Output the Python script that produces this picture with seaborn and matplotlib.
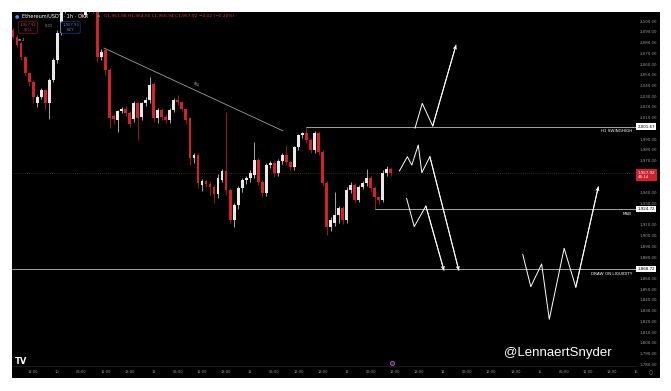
import matplotlib
matplotlib.use('Agg')
import numpy as np
import pandas as pd
import matplotlib.pyplot as plt
import seaborn as sns
from matplotlib.patches import Rectangle

# hourly candles, hour offset from 13th 00:00
hours = list(range(-83, 12))

opens = [2091.8, 2085.3, 2080.0, 2066.6, 2051.6, 2043.3, 2023.7, 2029.3, 2035.8, 2023.7,
         2045.1, 2063.8, 2089.0, 2112.0, 2120.0, 2116.0, 2122.0, 2117.0, 2106.0, 2112.0,
         2115.0, 2110.0, 2066.6, 2073.1, 2054.5, 2011.5, 2007.8, 2016.2, 2018.0, 2014.4,
         2008.7, 2023.7, 2010.6, 2023.7, 2026.5, 2041.4, 2009.7, 2017.1, 2010.6, 2007.8,
         2017.1, 2026.5, 2024.6, 2018.0, 2009.7, 1972.3, 1975.2, 1947.2, 1950.9, 1948.1,
         1945.3, 1938.8, 1951.8, 1960.5, 1942.5, 1914.5, 1928.5, 1944.4, 1951.8, 1953.7,
         1956.5, 1970.5, 1950.0, 1939.7, 1965.8, 1968.0, 1958.4, 1969.5, 1975.2, 1968.6,
         1964.0, 1982.6, 1993.8, 1995.7, 1989.2, 1979.8, 1995.7, 1978.0, 1949.0, 1908.0,
         1912.0, 1919.0, 1925.7, 1914.5, 1942.5, 1947.2, 1933.2, 1945.3, 1949.0, 1953.7,
         1944.4, 1935.6, 1933.2, 1958.4, 1962.1]
highs = [2094, 2087, 2081, 2068, 2053, 2045, 2031, 2038, 2037, 2047,
         2066, 2092, 2118, 2124, 2126, 2124, 2126, 2120, 2114, 2117,
         2118, 2112, 2074, 2074.5, 2056, 2013, 2017, 2020, 2021, 2016,
         2026, 2025, 2025, 2029, 2048.3, 2043, 2019, 2019, 2013, 2019,
         2028, 2031, 2026, 2019, 2011, 1977, 1977, 1953, 1952, 1951,
         1947, 1957, 1962, 2015.5, 1944, 1930, 1946, 1954, 1956, 1961,
         1987.3, 1972, 1952, 1968, 1970, 1970, 1971, 1977, 1984.3, 1970,
         1984, 1995, 1997, 2001.67, 1991, 1998, 1997, 1980, 1951, 1917,
         1941, 1928, 1928, 1945, 1950, 1949, 1947, 1951, 1962, 1956,
         1946, 1937, 1961, 1964.5, 1964]
lows = [2083, 2076, 2064, 2049, 2040, 2024, 2020, 2027, 2018, 2009,
        2043, 2061, 2087, 2108, 2112, 2112, 2114, 2104, 2104, 2109,
        2108, 2062, 2064, 2050, 2000.5, 2004, 1997, 2014, 2012, 2001,
        2006, 1989.2, 2008, 2021, 2024, 2006, 2005, 2008, 2005, 2005,
        2015, 2022, 2016, 2004, 1966, 1968, 1944, 1942, 1945, 1938,
        1930, 1935, 1950, 1938, 1912, 1908.3, 1925, 1941, 1948, 1950,
        1954, 1947, 1936, 1937, 1963, 1955, 1956, 1967, 1966, 1961,
        1961, 1980, 1991, 1986, 1977, 1977, 1975, 1946, 1900.2, 1904,
        1909, 1912, 1911, 1912, 1940, 1930, 1931, 1943, 1946, 1941,
        1924.72, 1929, 1931, 1956, 1956]
closes = [2085.3, 2077.8, 2066.6, 2051.6, 2043.3, 2029.3, 2029.3, 2035.8, 2023.7, 2045.1,
          2063.8, 2089.0, 2112.0, 2120.0, 2116.0, 2122.0, 2117.0, 2110.0, 2112.0, 2115.0,
          2110.0, 2066.6, 2071.2, 2054.5, 2009.7, 2008.7, 2016.2, 2018.0, 2014.4, 2004.1,
          2023.7, 2009.7, 2023.7, 2026.5, 2040.5, 2009.7, 2017.1, 2010.6, 2007.8, 2017.1,
          2026.5, 2024.6, 2018.0, 2007.8, 1972.3, 1975.2, 1949.0, 1950.9, 1948.1, 1945.3,
          1938.8, 1953.7, 1960.5, 1942.5, 1914.5, 1928.5, 1944.4, 1951.8, 1953.7, 1958.4,
          1970.5, 1950.0, 1939.7, 1965.8, 1968.0, 1958.4, 1969.5, 1975.2, 1968.6, 1964.0,
          1982.6, 1993.8, 1995.7, 1989.2, 1979.8, 1995.7, 1978.0, 1949.0, 1908.0, 1914.5,
          1919.0, 1925.7, 1914.5, 1942.5, 1947.2, 1933.2, 1945.3, 1949.0, 1953.7, 1944.4,
          1935.6, 1933.2, 1958.4, 1962.1, 1957.92]

# levels
swing_high = 2001.67
msb = 1924.72
dol = 1868.72
last_price = 1957.92

# drawn lines (hour, price)
trend_h = [-60.4, -15.8]
trend_p = [2075.0, 1997.6]
path1_h = [17.0, 18.8, 21.4, 27.2]
path1_p = [2000.1, 2023.4, 2002.2, 2077.8]
path2_h = [13.1, 15.1, 16.2, 17.8, 18.7, 20.7, 27.9]
path2_p = [1960.2, 1973.6, 1965.8, 1984.5, 1958.7, 1973.6, 1867.5]
path3_h = [14.9, 16.8, 19.7, 24.2]
path3_p = [1934.8, 1908.3, 1927.6, 1867.5]
path4_h = [43.8, 45.8, 48.5, 50.4, 54.1, 57.0, 62.6]
path4_p = [1882.5, 1852.3, 1873.5, 1821.9, 1888.1, 1851.8, 1945.6]

# price axis labels (the ones under the tags are hidden)
yt = [v for v in range(1780, 2101, 10) if v not in (1870, 1920, 1950, 1960, 2000)]

df = pd.DataFrame(dict(hour=hours, open=opens, high=highs, low=lows, close=closes))
df['up'] = df.close >= df.open

sns.set_theme(style='dark')
plt.rcParams['font.family'] = ['DejaVu Sans']

W, H = 671, 391
fig = plt.figure(figsize=(6.71, 3.91), dpi=100, facecolor='white')
fig.add_artist(Rectangle((12 / W, 1 - 378 / H), 648 / W, 366 / H, transform=fig.transFigure,
                         fc='black', ec='none', zorder=-5))
ax = fig.add_axes([12 / W, 1 - 366 / H, 624.5 / W, 354 / H])
ax.set_facecolor('black')

xmin, xmax = -83.26, 72.1
red = '#d1212d'
cols = np.where(df.up, '#e8e8e8', red)

ax.vlines(df.hour, df.low, df.high, colors=cols, lw=0.5, zorder=3)
ax.bar(df.hour, np.maximum((df.close - df.open).abs(), 0.6), bottom=np.minimum(df.open, df.close),
       width=0.7, color=cols, linewidth=0, zorder=4)

# levels
ax.hlines(last_price, xmin, xmax, colors='#6e1c1c', linestyles=(0, (1, 1.5)), lw=0.6, zorder=2)
sns.lineplot(x=[-10, xmax], y=[swing_high, swing_high], color='#bdbdbd', lw=0.6, ax=ax)
sns.lineplot(x=[7, xmax], y=[msb, msb], color='#bdbdbd', lw=0.6, ax=ax)
sns.lineplot(x=[xmin, xmax], y=[dol, dol], color='#bdbdbd', lw=0.6, ax=ax)
sns.lineplot(x=trend_h, y=trend_p, color='#9e9e9e', lw=0.6, ax=ax)
ax.text(-37.5, 2038, 'SSL', fontsize=2.6, color='#bdbdbd', rotation=-25, ha='center', va='bottom')

for ph, pp in [(path1_h, path1_p), (path2_h, path2_p), (path3_h, path3_p), (path4_h, path4_p)]:
    sns.lineplot(x=ph, y=pp, sort=False, estimator=None, color='white', lw=0.7, ax=ax)
    ax.annotate('', xy=(ph[-1], pp[-1]), xytext=(ph[-2], pp[-2]),
                arrowprops=dict(arrowstyle='->', color='white', lw=0.7, mutation_scale=5,
                                shrinkA=0, shrinkB=0))

ax.text(71.0, swing_high - 2.5, 'H1 SWINGHIGH', fontsize=3.0, color='white', ha='right', va='top')
ax.text(71.0, msb - 2.5, 'MSB', fontsize=3.0, color='white', ha='right', va='top')
ax.text(71.0, dol - 2.5, 'DRAW ON LIQUIDITY', fontsize=3.0, color='white', ha='right', va='top')

# price tags
for lvl in [swing_high, msb, dol]:
    ax.text(72.4, lvl, f'{lvl:,.2f}', fontsize=2.9, color='black', ha='left', va='center',
            bbox=dict(boxstyle='square,pad=0.3', fc='white', ec='none'), clip_on=False, zorder=6)
ax.text(72.4, last_price - 1.5, f'{last_price:,.2f}\n46:14', fontsize=2.9, color='white', ha='left',
        va='center', linespacing=1.2,
        bbox=dict(boxstyle='square,pad=0.35', fc=red, ec='none'), clip_on=False, zorder=6)

ax.plot([11.3], [1781.5], 'o', ms=3, mfc='#3a1a4a', mec='#b05cc8', mew=0.6)

ax.set_xlim(xmin, xmax)
ax.set_ylim(1778.3, 2108.6)

ax.yaxis.tick_right()
ax.set_yticks(yt)
ax.set_yticklabels([f'{v:,.2f}' for v in yt])
xt = list(range(-78, 73, 6))
ax.set_xticks(xt)
ax.set_xticklabels([str(13 + h // 24) if h % 24 == 0 else f'{h % 24:02d}:00' for h in xt])
ax.tick_params(axis='y', length=0, pad=2, labelsize=2.9, labelcolor='#9a9a9a')
ax.tick_params(axis='x', length=0, pad=3, labelsize=2.6, labelcolor='#9a9a9a')
ax.grid(False)
for s in ax.spines.values():
    s.set_visible(False)
ax.spines['bottom'].set_visible(True)
ax.spines['bottom'].set_color('#262626')
ax.spines['bottom'].set_linewidth(0.5)
ax.set_xlabel('')
ax.set_ylabel('')

# header
fig.text(17 / W, 1 - 16 / H, '●', fontsize=3.5, color='#5b8def', va='center', ha='center')
fig.text(22 / W, 1 - 16 / H, 'Ethereum/USDT · 1h · OKX', fontsize=3.6, color='white', va='center')
fig.text(98 / W, 1 - 16 / H, '●', fontsize=2.5, color='#26a69a', va='center', ha='center')
fig.text(104 / W, 1 - 16 / H, 'O1,961.98 H1,964.60 L1,956.94 C1,957.92 −4.02 (−0.20%)',
         fontsize=3.2, color='#e0343f', va='center')
fig.text(28 / W, 1 - 27.5 / H, '1,957.92\nSELL', fontsize=2.7, color='#e0343f', ha='center', va='center',
         linespacing=1.3, bbox=dict(boxstyle='round,pad=0.35', fc='black', ec='#8e1b22', lw=0.5))
fig.text(49 / W, 1 - 26 / H, '0.01', fontsize=2.6, color='#9a9a9a', ha='center', va='center')
fig.text(70.5 / W, 1 - 27.5 / H, '1,957.93\nBUY', fontsize=2.7, color='#4a7fe0', ha='center', va='center',
         linespacing=1.3, bbox=dict(boxstyle='round,pad=0.35', fc='black', ec='#1f3f8a', lw=0.5))
fig.text(21 / W, 1 - 40 / H, '≡ 2', fontsize=2.6, color='#cfcfcf', ha='center', va='center')

fig.text(15 / W, 1 - 361 / H, 'TV', fontsize=6, color='white', weight='bold', va='center')
fig.text(612 / W, 1 - 353 / H, '@LennaertSnyder', fontsize=9.5, color='white',
         family='Liberation Sans', ha='right', va='center')
fig.text(651 / W, 1 - 373 / H, '○', fontsize=3.5, color='#9a9a9a', ha='center', va='center')

fig.savefig('out.png', dpi=100, facecolor='white')
